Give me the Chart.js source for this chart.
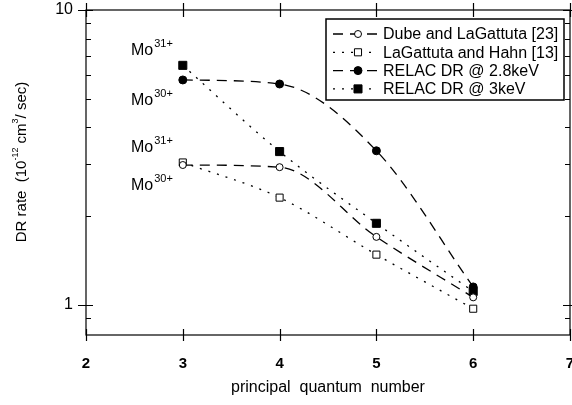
<!DOCTYPE html>
<html>
<head>
<meta charset="utf-8">
<script src="https://cdn.jsdelivr.net/npm/chart.js@4.4.0/dist/chart.umd.min.js"></script>
<style>
  html, body { margin: 0; padding: 0; background: #fff; }
  #wrap { width: 572px; height: 405px; }
</style>
</head>
<body>
<div id="wrap"><canvas id="myChart" width="572" height="405"></canvas></div>
<script>
'use strict';
// principal quantum number n
const nValues = [3, 4, 5, 6];
// DR rate in 1e-12 cm^3/sec
const dubeRate = [2.98, 2.93, 1.70, 1.06];
const lagattutaRate = [3.04, 2.31, 1.48, 0.97];
const relac28Rate = [5.79, 5.61, 3.33, 1.15];
const relac3Rate = [6.49, 3.31, 1.89, 1.11];

const xTicks = [2, 3, 4, 5, 6, 7];
const yTicks = [0.9, 1, 2, 3, 4, 5, 6, 7, 8, 9, 10];
const yLabels = [1, 10];

const seriesNames = ['Dube and LaGattuta [23]', 'LaGattuta and Hahn [13]', 'RELAC DR @ 2.8keV', 'RELAC DR @ 3keV'];
const ionNames = ['31+', '30+', '31+', '30+'];
// where the ion labels sit, in data units (n, rate)
const ionAnchors = [[2.465, 7.04], [2.465, 4.76], [2.465, 3.30], [2.465, 2.45]];

const FONT = '"Liberation Sans", Arial, Helvetica, sans-serif';
const DASHED = [10, 7];
const DOTTED = [2, 7];

function toPoints(vals) {
  return vals.map((v, i) => ({ x: nValues[i], y: v }));
}

function makeSet(label, vals, dash, style, filled, radius) {
  return {
    label: label,
    data: toPoints(vals),
    borderColor: '#000',
    borderWidth: 1.3,
    borderDash: dash,
    fill: false,
    cubicInterpolationMode: 'monotone',
    pointStyle: style,
    pointRadius: radius,
    pointHoverRadius: radius,
    pointBorderWidth: 1,
    pointBorderColor: '#000',
    pointBackgroundColor: filled ? '#000' : '#fff',
    clip: false
  };
}

function drawMarker(ctx, ds, x, y) {
  ctx.save();
  ctx.setLineDash([]);
  ctx.lineWidth = 1;
  ctx.strokeStyle = '#000';
  ctx.fillStyle = ds.pointBackgroundColor;
  ctx.beginPath();
  if (ds.pointStyle === 'rect') {
    const s = ds.pointRadius * Math.SQRT1_2;
    ctx.rect(x - s, y - s, 2 * s, 2 * s);
  } else {
    ctx.arc(x, y, ds.pointRadius, 0, Math.PI * 2);
  }
  ctx.fill();
  ctx.stroke();
  ctx.restore();
}

const framePlugin = {
  id: 'frame',
  afterDatasetsDraw(chart) {
    const ctx = chart.ctx;
    const a = chart.chartArea;
    const xs = chart.scales.x, ys = chart.scales.y;
    ctx.save();
    ctx.strokeStyle = '#000';
    ctx.lineWidth = 1.2;
    ctx.setLineDash([]);
    ctx.strokeRect(a.left, a.top, a.right - a.left, a.bottom - a.top);

    ctx.beginPath();
    xTicks.forEach(v => {
      const px = Math.round(xs.getPixelForValue(v)) + 0.5;
      ctx.moveTo(px, a.bottom - 6); ctx.lineTo(px, a.bottom + 6);
      ctx.moveTo(px, a.top - 7); ctx.lineTo(px, a.top + 7);
    });
    yTicks.forEach(v => {
      const py = Math.round(ys.getPixelForValue(v)) + 0.5;
      if (yLabels.includes(v)) {
        ctx.moveTo(a.left - 8, py); ctx.lineTo(a.left + 7, py);
        ctx.moveTo(a.right - 7, py); ctx.lineTo(a.right + 2, py);
      } else {
        ctx.moveTo(a.left, py); ctx.lineTo(a.left + 5, py);
        ctx.moveTo(a.right - 5, py); ctx.lineTo(a.right, py);
      }
    });
    ctx.stroke();

    // y axis title with superscripts
    const parts = [['DR rate  (10', false], ['-12', true], [' cm', false], ['3', true], ['/ sec)', false]];
    const big = '15px ' + FONT, small = '9px ' + FONT;
    let total = 0;
    parts.forEach(p => { ctx.font = p[1] ? small : big; total += ctx.measureText(p[0]).width; });
    ctx.translate(26, 162);
    ctx.rotate(-Math.PI / 2);
    ctx.fillStyle = '#000';
    ctx.textBaseline = 'alphabetic';
    let cx = -total / 2;
    parts.forEach(p => {
      ctx.font = p[1] ? small : big;
      ctx.fillText(p[0], cx, p[1] ? -8 : 0);
      cx += ctx.measureText(p[0]).width;
    });
    ctx.setTransform(1, 0, 0, 1, 0, 0);

    // ion labels
    ionAnchors.forEach((pos, i) => {
      const px = xs.getPixelForValue(pos[0]);
      const py = ys.getPixelForValue(pos[1]);
      ctx.font = '16px ' + FONT;
      ctx.fillText('Mo', px, py);
      const w = ctx.measureText('Mo').width;
      ctx.font = '11px ' + FONT;
      ctx.fillText(ionNames[i], px + w + 1, py - 8);
    });

    // legend box
    const bx = 326, by = 19, bw = 238, bh = 81;
    ctx.fillStyle = '#fff';
    ctx.fillRect(bx, by, bw, bh);
    ctx.lineWidth = 1.5;
    ctx.strokeRect(bx, by, bw, bh);
    ctx.lineWidth = 1.3;
    ctx.font = '16px ' + FONT;
    ctx.textBaseline = 'middle';
    chart.data.datasets.forEach((ds, i) => {
      const y = by + 15 + i * 18.3;
      ctx.setLineDash(ds.borderDash);
      ctx.beginPath();
      ctx.moveTo(bx + 7, y);
      ctx.lineTo(bx + 52, y);
      ctx.stroke();
      drawMarker(ctx, ds, bx + 32, y);
      ctx.fillStyle = '#000';
      ctx.fillText(ds.label, bx + 57, y + 1);
    });
    ctx.restore();
  }
};

const ctx = document.getElementById('myChart').getContext('2d');
const myChart = new Chart(ctx, {
  type: 'line',
  data: {
    datasets: [
      makeSet(seriesNames[0], dubeRate, DASHED, 'circle', false, 3.5),
      makeSet(seriesNames[1], lagattutaRate, DOTTED, 'rect', false, 5),
      makeSet(seriesNames[2], relac28Rate, DASHED, 'circle', true, 4),
      makeSet(seriesNames[3], relac3Rate, DOTTED, 'rect', true, 5.7)
    ]
  },
  options: {
    responsive: false,
    animation: false,
    devicePixelRatio: 1,
    layout: { autoPadding: false, padding: { top: 10, right: 2, left: 0, bottom: 0 } },
    plugins: { legend: { display: false }, tooltip: { enabled: false } },
    scales: {
      x: {
        type: 'linear',
        position: 'bottom',
        min: 2,
        max: 7,
        afterBuildTicks: s => { s.ticks = xTicks.map(v => ({ value: v })); },
        afterFit: s => { s.height = 70; s.paddingLeft = 0; s.paddingRight = 0; },
        grid: { display: false, drawTicks: false },
        border: { display: false },
        ticks: { color: '#000', padding: 20, font: { family: FONT, size: 15, weight: 'bold' } },
        title: {
          display: true,
          text: 'principal  quantum  number',
          color: '#000',
          font: { family: FONT, size: 16 },
          padding: { top: 0, bottom: 8 }
        }
      },
      y: {
        type: 'logarithmic',
        min: 0.79,
        max: 10,
        afterBuildTicks: s => { s.ticks = yTicks.map(v => ({ value: v })); },
        afterFit: s => { s.width = 86; s.paddingTop = 0; s.paddingBottom = 0; },
        grid: { display: false, drawTicks: false },
        border: { display: false },
        ticks: {
          color: '#000',
          padding: 13,
          autoSkip: false,
          font: { family: FONT, size: 16 },
          callback: v => yLabels.includes(v) ? String(v) : ''
        }
      }
    }
  },
  plugins: [framePlugin]
});
</script>
</body>
</html>
